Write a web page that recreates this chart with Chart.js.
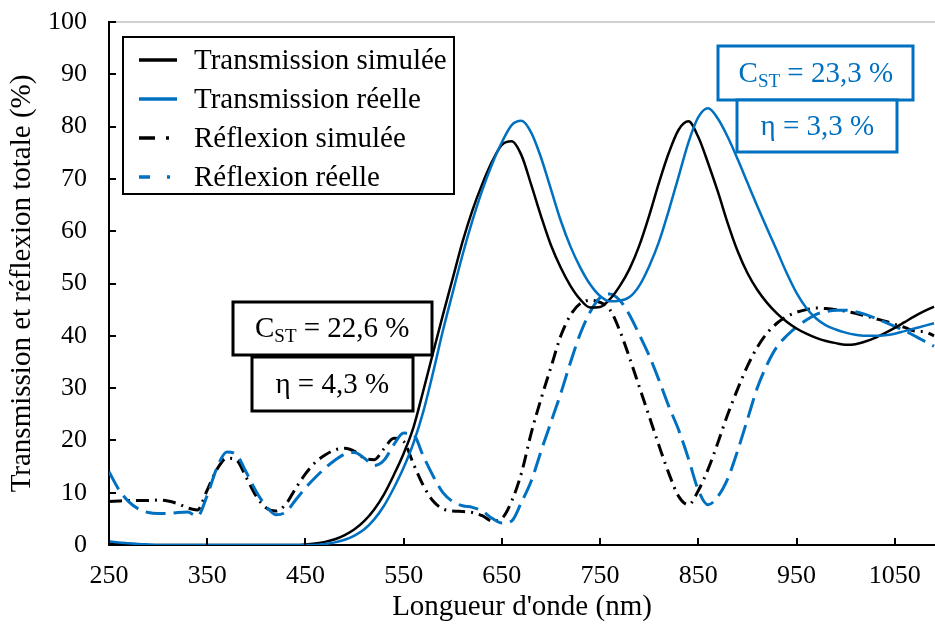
<!DOCTYPE html>
<html>
<head>
<meta charset="utf-8">
<script src="https://cdn.jsdelivr.net/npm/chart.js@4/dist/chart.umd.min.js"></script>
<style>
html,body{margin:0;padding:0;background:#fff;}
#wrap{width:935px;height:633px;position:relative;}
</style>
</head>
<body>
<div id="wrap"><canvas id="c" width="935" height="633"></canvas></div>
<script>
// ---- data ----
const wavelengths = [250,260,270,280,290,300,310,320,330,340,350,360,370,380,390,400,410,420,430,440,
  450,460,470,480,490,500,510,520,530,540,550,560,570,580,590,600,610,620,630,640,
  650,660,670,680,690,700,710,720,730,740,750,760,770,780,790,800,810,820,830,840,
  850,860,870,880,890,900,910,920,930,940,950,960,970,980,990,1000,1010,1020,1030,1040,
  1050,1060,1070,1080,1090];

const transmissionSimulee = [0.3,0.2,0.1,0.05,0,0,0,0,0,0,0,0,0,0,0,0,0,0,0,0,
  0.1,0.3,0.6,1.1,1.9,3.0,4.6,6.8,9.7,13.4,17.5,22.5,29.5,36.8,44,51,58,64,69,73.3,
  76.5,77.2,74.5,68.8,62.8,57.3,53,49.5,46.9,45.4,45.5,47,49.5,52.8,57.3,63,69.3,75,79.4,81,
  78,73,67.5,61.5,56.2,52,48.8,46.3,44.3,42.7,41.4,40.4,39.6,39,38.6,38.3,38.4,38.9,39.6,40.5,
  41.5,42.6,43.7,44.7,45.6];

const transmissionReelle = [0.7,0.5,0.35,0.2,0.1,0,0,0,0,0,0,0,0,0,0,0,0,0,0,0,
  0,0,0.2,0.5,1.0,1.8,3.0,4.9,7.5,10.9,14.8,19.5,25.5,33,41,48.3,55.5,62,67.8,72.8,
  77,80.3,81.1,78.8,74,68,62,57,53,49.8,47.6,46.6,46.7,47.4,49.6,53.3,58,64,70.5,77,
  81.8,83.5,81.5,78,73.8,69.3,64.8,60.5,56.3,52,48.2,45.3,43.3,42,41.2,40.6,40.2,40,40,40.1,
  40.4,40.9,41.4,41.9,42.4];

const reflexionSimulee = [8.3,8.4,8.5,8.5,8.5,8.6,8.4,7.9,7.1,6.7,10.5,14.5,16.6,16.2,12.8,9.3,7.1,6.5,7.8,10.8,
  13.6,15.8,17.2,18.2,18.5,17.9,16.6,16.3,18.4,20.4,19.8,15.5,11.4,8.4,6.9,6.5,6.4,6.2,5.6,4.6,
  5.1,8.4,13.8,21.5,28,34,40,44,46.2,46.8,46.4,45,41,35.8,30.2,24.6,19,13.7,9.3,7.7,
  10.4,14.5,19.6,25,29.8,34.2,37.8,40.5,42.4,43.7,44.5,45,45.3,45.2,45,44.7,44.3,43.8,43.3,42.8,
  42.2,41.6,40.9,40.8,40];

const reflexionReelle = [14,10.6,8.3,6.9,6.2,6,6,6.2,6.3,5.5,9.5,14.8,17.8,17.2,13.8,10.2,7.4,5.8,6.3,8.6,
  10.9,12.9,14.7,16.2,17.4,17.7,16.6,15.2,16.2,19.2,21.4,21.1,17,13.2,10,8.3,7.5,7.2,6.5,5.1,
  4.2,4.6,8.2,12.3,18,23.5,29,35,40.5,44.6,47.3,48,46.8,44,40.2,36.2,31.5,26.5,22,16.5,
  10.5,7.7,9.3,12.7,18,24,30,34.5,37.9,40,41.7,43,44.1,44.6,44.9,44.9,44.6,44.1,43.4,42.6,
  41.8,41,40,39,38];

const seriesLabels = ['Transmission simulée','Transmission réelle','Réflexion simulée','Réflexion réelle'];
const xTickLabels = [250,350,450,550,650,750,850,950,1050];
const yTickLabels = [0,10,20,30,40,50,60,70,80,90,100];

// ---- styling ----
const BLUE = '#0070C0';
const FONT = '"Liberation Serif", "Times New Roman", serif';

function pts(values){ return wavelengths.map((w,i)=>({x:w, y:values[i]})); }

const annotations = [
  {x:477.3, y:41.4, w:199, h:53, color:'#000', main:'C', sub:'ST', rest:' = 22,6 %'},
  {x:477.3, y:30.8, w:161, h:54, color:'#000', main:'η = 4,3 %'},
  {x:969.7, y:90.2, w:195, h:54, color:BLUE, main:'C', sub:'ST', rest:' = 23,3 %'},
  {x:971.2, y:80.1, w:160, h:52, color:BLUE, main:'η = 3,3 %'}
];

const ticksInside = {
  id:'ticksInside',
  afterDatasetsDraw(chart){
    const {ctx, chartArea:a, scales:{x,y}} = chart;
    ctx.save();
    ctx.strokeStyle = '#000'; ctx.lineWidth = 2;
    xTickLabels.forEach(v=>{
      const px = Math.round(x.getPixelForValue(v));
      ctx.beginPath(); ctx.moveTo(px, a.bottom); ctx.lineTo(px, a.bottom-7); ctx.stroke();
    });
    yTickLabels.forEach(v=>{
      const py = Math.round(y.getPixelForValue(v));
      ctx.beginPath(); ctx.moveTo(a.left, py); ctx.lineTo(a.left+7, py); ctx.stroke();
    });
    ctx.restore();
  }
};

const boxes = {
  id:'boxes',
  afterDraw(chart){
    const {ctx, scales:{x,y}} = chart;
    ctx.save();
    annotations.forEach(an=>{
      const cx = x.getPixelForValue(an.x), cy = y.getPixelForValue(an.y);
      const l = Math.round(cx - an.w/2), t = Math.round(cy - an.h/2);
      ctx.fillStyle = '#fff';
      ctx.fillRect(l, t, an.w, an.h);
      ctx.strokeStyle = an.color; ctx.lineWidth = 3;
      ctx.strokeRect(l, t, an.w, an.h);
      ctx.fillStyle = an.color;
      ctx.textBaseline = 'middle';
      ctx.textAlign = 'left';
      const big = '29px ' + FONT, small = '19px ' + FONT;
      ctx.font = big; const w1 = ctx.measureText(an.main).width;
      let w2 = 0, w3 = 0;
      if (an.sub){ ctx.font = small; w2 = ctx.measureText(an.sub).width; ctx.font = big; w3 = ctx.measureText(an.rest).width; }
      let sx = cx - (w1+w2+w3)/2;
      const ty = cy + 1;
      ctx.font = big; ctx.fillText(an.main, sx, ty); sx += w1;
      if (an.sub){
        ctx.font = small; ctx.fillText(an.sub, sx, ty + 8); sx += w2;
        ctx.font = big; ctx.fillText(an.rest, sx, ty);
      }
    });
    ctx.restore();
  }
};

const legendBox = {
  id:'legendBox',
  afterDraw(chart){
    const ctx = chart.ctx;
    ctx.save();
    ctx.fillStyle = '#fff';
    ctx.fillRect(123, 37, 331, 157);
    ctx.strokeStyle = '#000'; ctx.lineWidth = 2;
    ctx.strokeRect(123, 37, 331, 157);
    const rows = [60, 99, 138, 177];
    chart.data.datasets.forEach((ds,i)=>{
      const yy = rows[i];
      ctx.strokeStyle = ds.borderColor; ctx.lineWidth = 3.5; ctx.setLineDash([]);
      ctx.beginPath();
      if (i < 2){ ctx.moveTo(139, yy); ctx.lineTo(177, yy); }
      else if (i === 2){ ctx.moveTo(139, yy); ctx.lineTo(155, yy); ctx.moveTo(166, yy); ctx.lineTo(169, yy); }
      else { ctx.moveTo(139, yy); ctx.lineTo(150, yy); ctx.moveTo(167, yy); ctx.lineTo(170, yy); }
      ctx.stroke();
      ctx.fillStyle = '#000';
      ctx.font = '29px ' + FONT;
      ctx.textBaseline = 'middle'; ctx.textAlign = 'left';
      ctx.fillText(ds.label, 194, yy + 1);
    });
    ctx.restore();
  }
};

new Chart(document.getElementById('c'), {
  type:'line',
  data:{
    datasets:[
      {label:seriesLabels[0], data:pts(transmissionSimulee), borderColor:'#000', borderWidth:2.5, order:2},
      {label:seriesLabels[1], data:pts(transmissionReelle), borderColor:BLUE, borderWidth:2.5, order:1},
      {label:seriesLabels[2], data:pts(reflexionSimulee), borderColor:'#000', borderWidth:3, borderDash:[13,6,2,6], order:4},
      {label:seriesLabels[3], data:pts(reflexionReelle), borderColor:BLUE, borderWidth:3, borderDash:[20,8], order:3}
    ]
  },
  options:{
    responsive:false,
    animation:false,
    devicePixelRatio:1,
    layout:{padding:{top:22, right:0, left:0, bottom:0}},
    elements:{point:{radius:0}, line:{cubicInterpolationMode:'monotone', fill:false}},
    plugins:{legend:{display:false}, tooltip:{enabled:false}},
    scales:{
      x:{
        type:'linear', min:250, max:1091,
        afterBuildTicks(s){ s.ticks = xTickLabels.map(v=>({value:v})); },
        afterFit(s){ s.height = 88; s.paddingLeft = 0; s.paddingRight = 0; },
        ticks:{color:'#000', font:{family:FONT, size:26}, padding:16, maxRotation:0, autoSkip:false,
               callback:(v)=>String(v)},
        grid:{color:'rgba(0,0,0,0)', drawTicks:false},
        border:{display:true, color:'#000', width:2},
        title:{display:true, text:"Longueur d'onde (nm)", color:'#000', font:{family:FONT, size:29}, padding:{top:0, bottom:8}}
      },
      y:{
        type:'linear', min:0, max:100,
        afterBuildTicks(s){ s.ticks = yTickLabels.map(v=>({value:v})); },
        afterFit(s){ s.width = 109; s.paddingTop = 0; s.paddingBottom = 0; },
        ticks:{color:'#000', font:{family:FONT, size:26}, padding:22, autoSkip:false,
               callback:(v)=>String(v)},
        grid:{color:(c)=> (c.tick && c.tick.value===100) ? '#d0d0d0' : 'rgba(0,0,0,0)', lineWidth:2, drawTicks:false},
        border:{display:true, color:'#000', width:2},
        title:{display:true, text:'Transmission et réflexion totale (%)', color:'#000', font:{family:FONT, size:29}, padding:{top:5, bottom:0}}
      }
    }
  },
  plugins:[ticksInside, legendBox, boxes]
});
</script>
</body>
</html>
